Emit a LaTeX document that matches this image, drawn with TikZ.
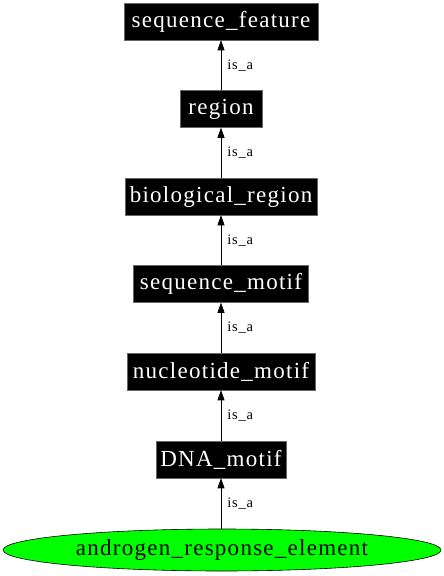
\documentclass[tikz,border=0pt]{standalone}
\usepackage{fontspec}
\setmainfont{Liberation Serif}
\newfontfamily\nodefont{Liberation Serif}[LetterSpace=5.5]
\usetikzlibrary{shapes.geometric,arrows.meta}
\tikzset{
  term/.style={rectangle, fill=black, draw=black!60, line width=0.5pt, text=white,
    minimum height=37pt, inner sep=0pt, font=\nodefont\fontsize{23}{26}\selectfont},
  leaf/.style={ellipse, fill=green, draw=black, line width=0.6pt, minimum width=438pt,
    minimum height=42pt, inner sep=0pt, font=\nodefont\fontsize{23}{26}\selectfont},
  isa/.style={draw=black, line width=0.6pt, -{Triangle[length=10pt,width=7pt]}},
  elabel/.style={font=\nodefont\fontsize{14.5}{16}\selectfont, anchor=west, inner sep=0pt, xshift=6pt}
}
\begin{document}
\begin{tikzpicture}[x=1pt,y=1pt]
\useasboundingbox (0,0) rectangle (444,-576);
\node[term, minimum width=194pt] (sf) at (221,-21.5) {sequence\_feature};
\node[term, minimum width=82pt] (rg) at (221,-109) {region};
\node[term, minimum width=192pt] (br) at (221,-196.5) {biological\_region};
\node[term, minimum width=175pt] (sm) at (221,-284) {sequence\_motif};
\node[term, minimum width=188pt] (nm) at (221,-371.5) {nucleotide\_motif};
\node[term, minimum width=130pt] (dm) at (221,-459.5) {DNA\_motif};
\node[leaf] (are) at (222,-550) {androgen\_response\_element};
\draw[isa] (rg.north) -- (sf.south) node[midway, elabel] {is\_a};
\draw[isa] (br.north) -- (rg.south) node[midway, elabel] {is\_a};
\draw[isa] (sm.north) -- (br.south) node[midway, elabel] {is\_a};
\draw[isa] (nm.north) -- (sm.south) node[midway, elabel] {is\_a};
\draw[isa] (dm.north) -- (nm.south) node[midway, elabel] {is\_a};
\draw[isa] (are.north -| dm.south) -- (dm.south) node[midway, elabel] {is\_a};
\end{tikzpicture}
\end{document}
